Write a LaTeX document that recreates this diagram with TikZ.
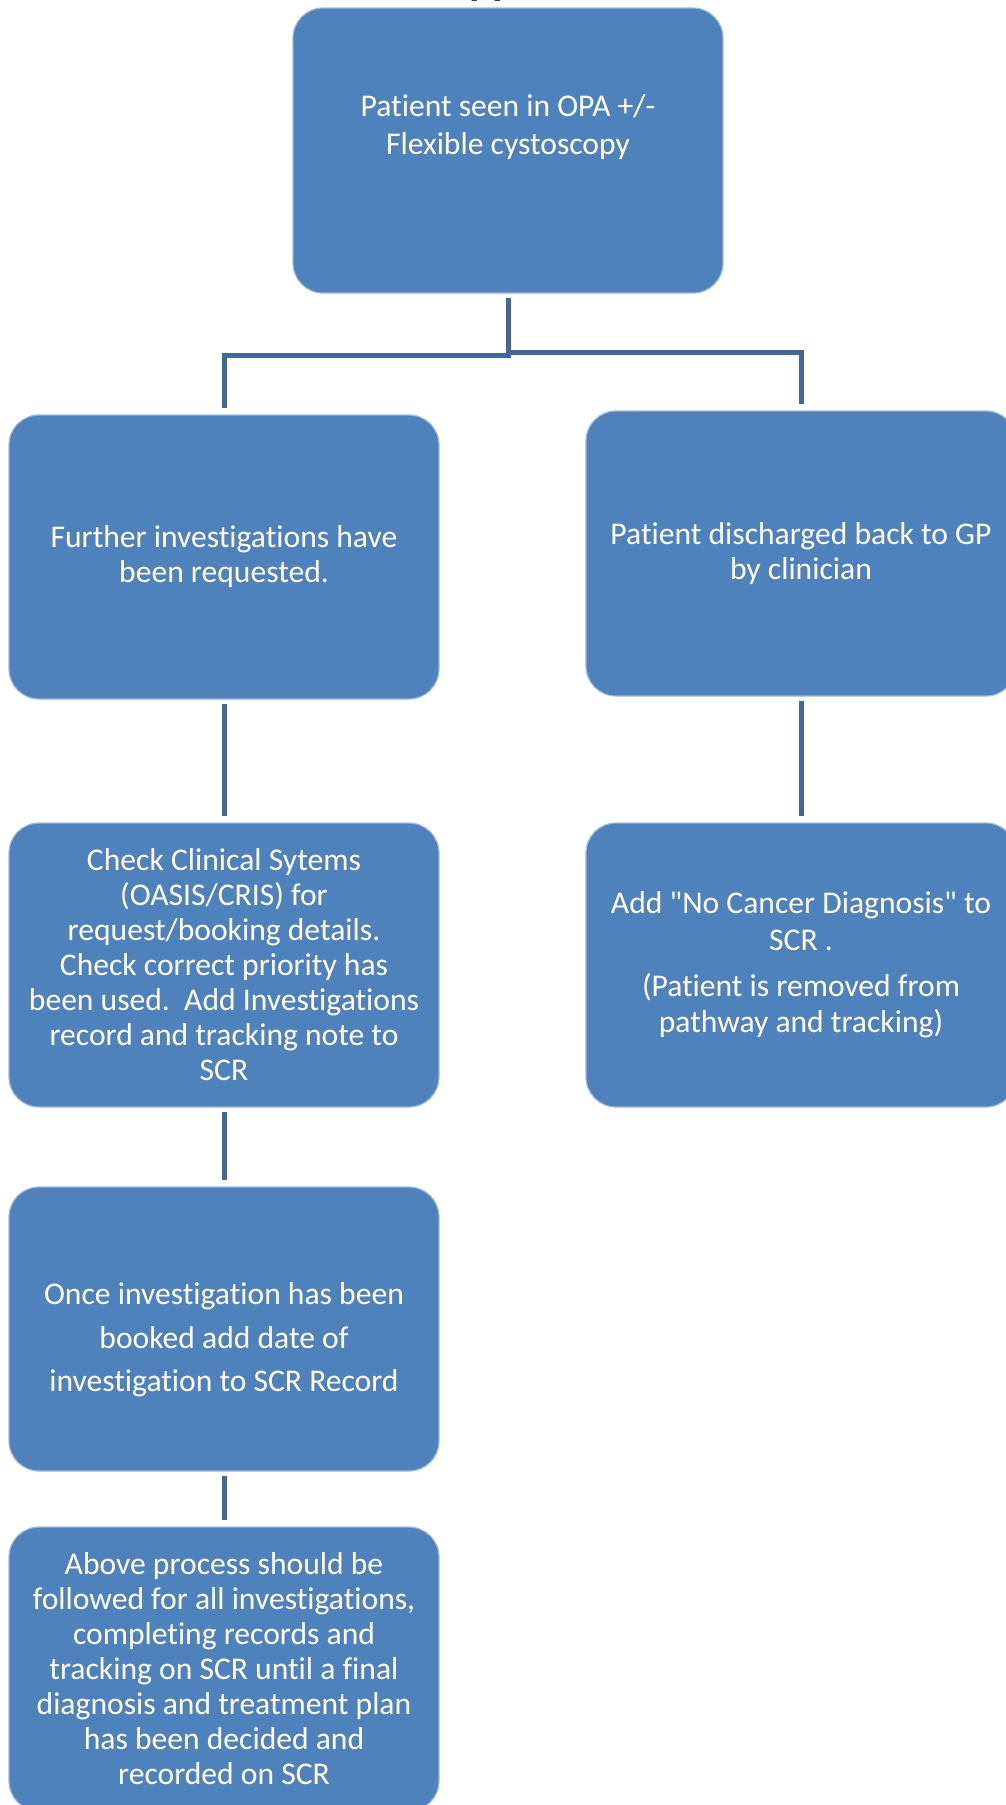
\documentclass[tikz,border=0pt]{standalone}
\usepackage{fontspec}
\setmainfont{Carlito}[Ligatures={TeXOff,NoCommon}]
\definecolor{boxblue}{RGB}{79,129,189}
\definecolor{lineblue}{RGB}{64,104,154}
\begin{document}
\begin{tikzpicture}[x=0.5pt,y=-0.5pt,
  box/.style={rectangle, rounded corners=15pt, fill=boxblue, draw=boxblue!55!white, line width=0.6pt,
    minimum width=215pt, minimum height=142pt, inner sep=0pt,
    text=white, align=center, font=\fontsize{15.8}{17.5}\selectfont},
  txt/.style={text=white, align=center, inner sep=0pt, font=\fontsize{15.8}{17.5}\selectfont},
  conn/.style={draw=lineblue, line width=2.5pt, shorten <=2pt, shorten >=3pt}]
\useasboundingbox (0,0) rectangle (1006,1805);
\clip (0,0) rectangle (1006,1805);

\node[anchor=base west, inner sep=0pt, font=\bfseries\fontsize{21.5}{24}\selectfont] (heading) at (469,-6) {pp};

% boxes
\node[box, minimum height=142.5pt] (top) at (508,150.5) {};
\node[txt, font=\fontsize{15.8}{19}\selectfont] (toptxt) at (508,127) {Patient seen in OPA +/-\\Flexible cystoscopy};

\node[box] (b2L) at (224,557) {Further investigations have\\been requested.};
\node[box, minimum height=142.5pt] (b2R) at (801,553.5) {Patient discharged back to GP\\by clinician};

\node[box] (b3L) at (224,965) {Check Clinical Sytems\\(OASIS/CRIS) for\\request/booking details.\\Check correct priority has\\been used.\ \ Add Investigations\\record and tracking note to\\SCR};
\node[box, font=\fontsize{15.8}{18.3}\selectfont] (b3R) at (801,965) {Add "No Cancer Diagnosis" to\\SCR .\\[4.5pt](Patient is removed from\\pathway and tracking)};

\node[box] (b4) at (224,1329) {};
\node[txt, font=\fontsize{15.8}{21.8}\selectfont] (b4txt) at (224,1340) {Once investigation has been\\booked add date of\\investigation to SCR Record};

\node[box] (b5) at (224,1669) {Above process should be\\followed for all investigations,\\completing records and\\tracking on SCR until a final\\diagnosis and treatment plan\\has been decided and\\recorded on SCR};

% connectors
\coordinate (jL) at (506,355);
\coordinate (jR) at (506,352);
\draw[conn] (top.south) -- (top.south |- jL) -| (b2L.north);
\draw[conn, shorten <=0pt] (top.south |- jR) -| (b2R.north);
\draw[conn] (b2L) -- (b3L);
\draw[conn] (b2R) -- (b3R);
\draw[conn] (b3L) -- (b4);
\draw[conn] (b4) -- (b5);
\end{tikzpicture}
\end{document}
